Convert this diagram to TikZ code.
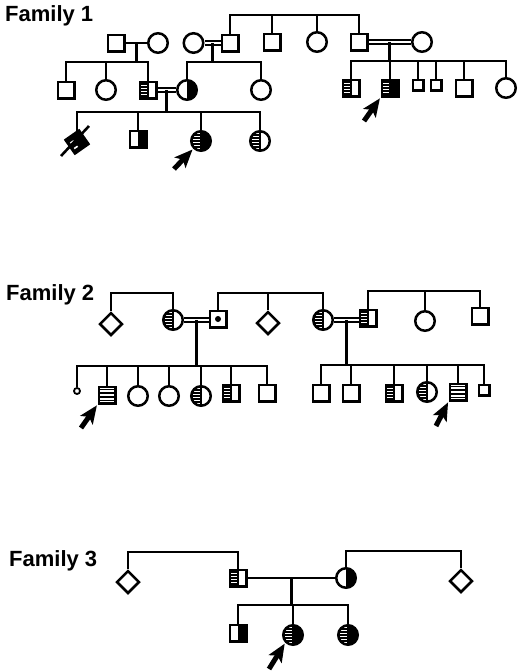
\documentclass[tikz,border=0pt]{standalone}
\usepackage{fontspec}
\setmainfont{Liberation Sans}
\usetikzlibrary{shapes.geometric,arrows.meta,calc}
\pgfdeclarelayer{background}
\pgfsetlayers{background,main}
\newcommand\pedStripesL{%
  \foreach \yy in {-9,-6,-3,0,3,6,9}{%
    \draw[black, line width=1.5pt] ([yshift=\yy pt]path picture bounding box.west) -- ([yshift=\yy pt]path picture bounding box.center);}%
  \draw[black, line width=1.6pt] (path picture bounding box.north) -- (path picture bounding box.south);}
\newcommand\pedHalfBlack{%
  \fill[black] (path picture bounding box.north) rectangle (path picture bounding box.south east);}
\newcommand\pedStripesFull{%
  \foreach \yy in {-5.4,-1.8,1.8,5.4}{%
    \draw[black, line width=1.5pt] ([yshift=\yy pt]path picture bounding box.west) -- ([yshift=\yy pt]path picture bounding box.east);}}
\begin{document}
\begin{tikzpicture}[x=1pt,y=-1pt,
  lw/.style={line width=2.6pt},
  base/.style={draw, line width=2.5pt, inner sep=0pt, fill=white},
  sq/.style={base, rectangle, minimum size=16.5pt},
  smsq/.style={base, rectangle, minimum size=10.5pt},
  circ/.style={base, circle, minimum size=19.5pt},
  dia/.style={base, diamond, minimum size=23pt},
  hb/.style={path picture={\pedHalfBlack}},
  sl/.style={path picture={\pedStripesL}},
  sb/.style={path picture={\pedStripesL\pedHalfBlack}},
  sf/.style={path picture={\pedStripesFull}},
  dotsq/.style={path picture={\fill[black] (path picture bounding box.center) circle (3pt);}},
  dbl/.style={double, double distance=1.8pt, line width=1.8pt},
  probarrow/.style={line width=5pt, shorten >=1pt, -{Stealth[length=18pt,width=15pt,inset=4pt]}},
  famlabel/.style={font=\bfseries\fontsize{22}{22}\selectfont, anchor=base west, inner sep=0pt},
  line join=miter
]
\useasboundingbox (0,0) rectangle (520,672);

% ---------------- Family 1 ----------------
\node[famlabel] (lab1) at (5,21) {Family 1};
% generation I
\node[sq]   (f1a) at (116,43) {};
\node[circ] (f1b) at (158,43) {};
\node[circ] (f1c) at (193.5,43) {};
\node[sq]   (f1d) at (230,43) {};
\node[sq]   (f1e) at (272,42) {};
\node[circ] (f1f) at (317,42) {};
\node[sq]   (f1g) at (359,42) {};
\node[circ] (f1h) at (422,42) {};
% generation II
\node[sq]        (f1i) at (66,90) {};
\node[circ]      (f1j) at (106,90) {};
\node[sq, sl]    (f1k) at (148,90) {};
\node[circ, hb]  (f1l) at (187,90) {};
\node[circ]      (f1m) at (261,90) {};
\node[sq, sl]    (f1n) at (351,88) {};
\node[sq, sb]    (f1o) at (390,88) {};
\node[smsq]      (f1p) at (418,85) {};
\node[smsq]      (f1q) at (436,85) {};
\node[sq]        (f1r) at (464,88) {};
\node[circ]      (f1s) at (506,88) {};
% generation III
\node[sq, fill=black, rotate=35] (f1t) at (77,142) {};
\node[sq, hb]    (f1u) at (138,139) {};
\node[circ, sb]  (f1v) at (201,141) {};
\node[circ, sl]  (f1w) at (260,141) {};

\coordinate (t1) at (0,15);
\coordinate (s1a) at (0,62);
\coordinate (s1b) at (0,62);
\coordinate (s1c) at (0,61);
\coordinate (s1d) at (0,112);

\begin{pgfonlayer}{background}
\draw[lw] (f1d.north) |- (f1g.north |- t1) -- (f1g.north);
\draw[lw] (f1e.north) -- (f1e.north |- t1);
\draw[lw] (f1f.north) -- (f1f.north |- t1);
\draw[lw] (f1a.east) -- (f1b.west);
\draw[dbl] (f1c.east) -- (f1d.west);
\draw[dbl] (f1g.east) -- (f1h.west);
\coordinate (d1a) at ($(f1a.east)!0.5!(f1b.west)$);
\coordinate (d1b) at ($(f1c.east)!0.5!(f1d.west)$);
\coordinate (d1c) at ($(f1g.east)!0.5!(f1h.west)$);
\draw[lw] (d1a) -- (d1a |- s1a);
\draw[lw] (d1b) -- (d1b |- s1b);
\draw[lw] (d1c) -- (d1c |- s1c);
\draw[lw] (f1i.north) |- (f1k.north |- s1a) -- (f1k.north);
\draw[lw] (f1j.north) -- (f1j.north |- s1a);
\draw[lw] (f1l.north) |- (f1m.north |- s1b) -- (f1m.north);
\draw[lw] (f1n.north) |- (f1s.north |- s1c) -- (f1s.north);
\foreach \k in {f1o,f1p,f1q,f1r}{\draw[lw] (\k.north) -- (\k.north |- s1c);}
\draw[dbl] (f1k.east) -- (f1l.west);
\coordinate (d1d) at ($(f1k.east)!0.5!(f1l.west)$);
\draw[lw] (d1d) -- (d1d |- s1d);
\draw[lw] (f1t.center) |- (f1w.north |- s1d) -- (f1w.north);
\draw[lw] (f1u.north) -- (f1u.north |- s1d);
\draw[lw] (f1v.north) -- (f1v.north |- s1d);
\end{pgfonlayer}
% deceased marks
\draw[white, line width=1.6pt]
  ($($(f1t.south west)!0.3!(f1t.north west)$)!0.18!($(f1t.south east)!0.3!(f1t.north east)$)$) --
  ($($(f1t.south west)!0.3!(f1t.north west)$)!0.4!($(f1t.south east)!0.3!(f1t.north east)$)$);
\draw[white, line width=1.6pt]
  ($($(f1t.south west)!0.65!(f1t.north west)$)!0.18!($(f1t.south east)!0.65!(f1t.north east)$)$) --
  ($($(f1t.south west)!0.65!(f1t.north west)$)!0.4!($(f1t.south east)!0.65!(f1t.north east)$)$);
\coordinate (sl1) at (61,156);
\coordinate (sl2) at (89,126);
\draw[lw] (sl1) -- (sl2);
% arrows
\coordinate (a1) at (174,169);
\coordinate (a2) at (364,121);
\draw[probarrow] (a1) -- (f1v.225);
\draw[probarrow] (a2) -- (f1o.south west);

% ---------------- Family 2 ----------------
\node[famlabel] (lab2) at (6,300) {Family 2};
\node[dia]            (f2a) at (111,324) {};
\node[circ, sl]       (f2b) at (173,320) {};
\node[sq, dotsq]      (f2c) at (218,319) {};
\node[dia]            (f2d) at (268,323) {};
\node[circ, sl]       (f2e) at (323,320) {};
\node[sq, sl]         (f2f) at (368,318) {};
\node[circ]           (f2g) at (425,321) {};
\node[sq]             (f2h) at (480,316) {};
% children left
\node[base, circle, minimum size=6pt, line width=1.8pt] (f2i) at (77,391) {};
\node[sq, sf]   (f2j) at (107,395) {};
\node[circ]     (f2k) at (138,396) {};
\node[circ]     (f2l) at (169,396) {};
\node[circ, sl] (f2m) at (201,396) {};
\node[sq, sl]   (f2n) at (231,393) {};
\node[sq]       (f2o) at (267,393) {};
% children right
\node[sq]       (f2p) at (321,393) {};
\node[sq]       (f2q) at (351,393) {};
\node[sq, sl]   (f2r) at (394,393) {};
\node[circ, sl] (f2s) at (427,392) {};
\node[sq, sf]   (f2t) at (458,392) {};
\node[smsq]     (f2u) at (484,390) {};

\coordinate (t2a) at (0,293);
\coordinate (t2b) at (0,293);
\coordinate (t2c) at (0,291);
\coordinate (s2a) at (0,366);
\coordinate (s2b) at (0,365);

\begin{pgfonlayer}{background}
\draw[lw] (f2a.north) |- (f2b.north |- t2a) -- (f2b.north);
\draw[lw] (f2c.north) |- (f2e.north |- t2b) -- (f2e.north);
\draw[lw] (f2d.north) -- (f2d.north |- t2b);
\draw[lw] (f2f.north) |- (f2h.north |- t2c) -- (f2h.north);
\draw[lw] (f2g.north) -- (f2g.north |- t2c);
\draw[dbl] (f2b.east) -- (f2c.west |- f2b.east);
\draw[dbl] (f2e.east) -- (f2f.west |- f2e.east);
\coordinate (d2a) at ($(f2b.east)!0.5!(f2c.west)$);
\coordinate (d2b) at ($(f2e.east)!0.5!(f2f.west)$);
\draw[lw] (d2a |- f2b.east) -- (d2a |- s2a);
\draw[lw] (d2b |- f2e.east) -- (d2b |- s2b);
\draw[lw] (f2i.north) |- (f2o.north |- s2a) -- (f2o.north);
\foreach \k in {f2j,f2k,f2l,f2m,f2n}{\draw[lw] (\k.north) -- (\k.north |- s2a);}
\draw[lw] (f2p.north) |- (f2u.north |- s2b) -- (f2u.north);
\foreach \k in {f2q,f2r,f2s,f2t}{\draw[lw] (\k.north) -- (\k.north |- s2b);}
\end{pgfonlayer}
\coordinate (a3) at (81,428);
\coordinate (a4) at (436,426);
\draw[probarrow] (a3) -- (f2j.south west);
\draw[probarrow] (a4) -- (f2t.south west);

% ---------------- Family 3 ----------------
\node[famlabel] (lab3) at (9,566) {Family 3};
\node[dia]       (f3a) at (128,582) {};
\node[sq, sl]    (f3b) at (238,578) {};
\node[circ, hb]  (f3c) at (346,578) {};
\node[dia]       (f3d) at (461,581) {};
\node[sq, hb]    (f3e) at (238,633) {};
\node[circ, sb]  (f3f) at (293,635) {};
\node[circ, sb]  (f3g) at (348,635) {};

\coordinate (t3a) at (0,552);
\coordinate (t3b) at (0,551);
\coordinate (s3) at (0,605);

\begin{pgfonlayer}{background}
\draw[lw] (f3a.north) |- (f3b.north |- t3a) -- (f3b.north);
\draw[lw] (f3c.north) |- (f3d.north |- t3b) -- (f3d.north);
\draw[lw] (f3b.east) -- (f3c.west);
\coordinate (d3) at ($(f3b.east)!0.5!(f3c.west)$);
\draw[lw] (d3) -- (d3 |- s3);
\draw[lw] (f3e.north) |- (f3g.north |- s3) -- (f3g.north);
\draw[lw] (f3f.north) -- (f3f.north |- s3);
\end{pgfonlayer}
\coordinate (a5) at (269,669);
\draw[probarrow] (a5) -- (f3f.225);
\end{tikzpicture}
\end{document}
